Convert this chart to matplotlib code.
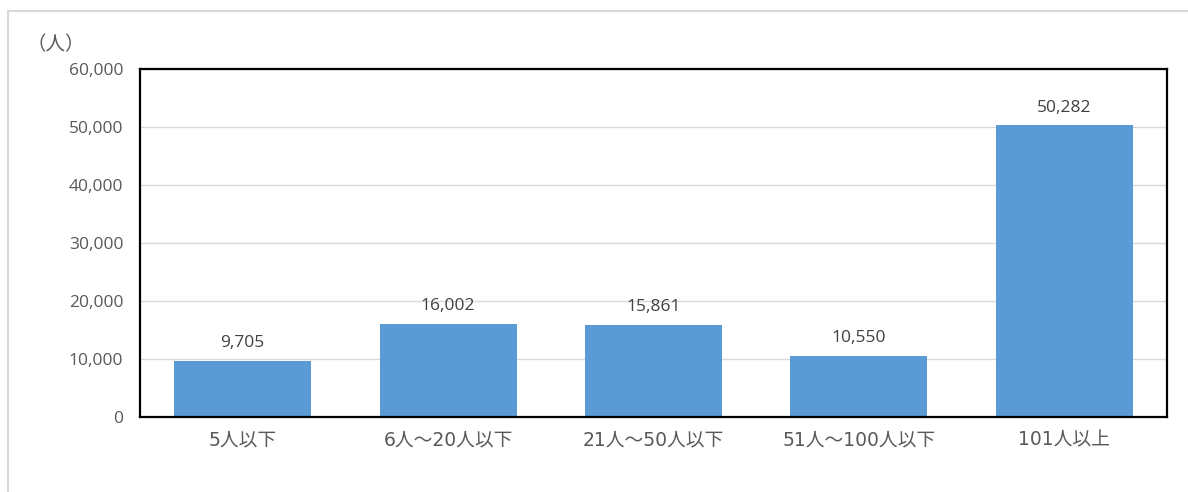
import matplotlib.pyplot as plt
from matplotlib.lines import Line2D

categories = ['5人以下', '6人～20人以下', '21人～50人以下', '51人～100人以下', '101人以上']
values = [9705, 16002, 15861, 10550, 50282]
y_ticks = [0, 10000, 20000, 30000, 40000, 50000, 60000]

plt.rcParams['font.family'] = ['Noto Sans CJK JP', 'DejaVu Sans']

fig = plt.figure(figsize=(11.88, 4.92), dpi=100)
ax = fig.add_axes([140 / 1188, 1 - 417 / 492, 1027 / 1188, 348 / 492])

x = range(len(categories))
ax.bar(x, values, width=0.667, color='#5B9BD5', zorder=2)

# value labels above bars
for i, v in enumerate(values):
    ax.text(i, v + 1700, f'{v:,}', ha='center', va='bottom', fontsize=12.5,
            family='Open Sans', color='#404040')

ax.set_xlim(-0.5, len(categories) - 0.5)
ax.set_ylim(0, 60000)
ax.set_yticks(y_ticks)
ax.set_yticklabels([f'{t:,}' for t in y_ticks], family='Open Sans', fontsize=12.5, color='#595959')
ax.set_xticks(list(x))
# wide digits from DejaVu, kanji fall back to Noto CJK
ax.set_xticklabels(categories, fontsize=13.5, color='#595959',
                   family=['DejaVu Sans', 'Noto Sans CJK JP'])
ax.tick_params(axis='y', length=0, pad=12)
ax.tick_params(axis='x', length=0, pad=10)
ax.grid(axis='y', color='#D9D9D9', linewidth=1, zorder=0)
for s in ax.spines.values():
    s.set_color('black')
    s.set_linewidth(1.6)

fig.text(27 / 1188, 1 - 45 / 492, '（人）', fontsize=14, color='#595959', va='center')

# light frame around the chart area
fig.add_artist(Line2D([8 / 1188, 1], [1 - 11 / 492, 1 - 11 / 492], color='#D9D9D9', lw=1.5))
fig.add_artist(Line2D([8 / 1188, 8 / 1188], [0, 1 - 11 / 492], color='#D9D9D9', lw=1.5))

fig.savefig('out.png', dpi=100)
